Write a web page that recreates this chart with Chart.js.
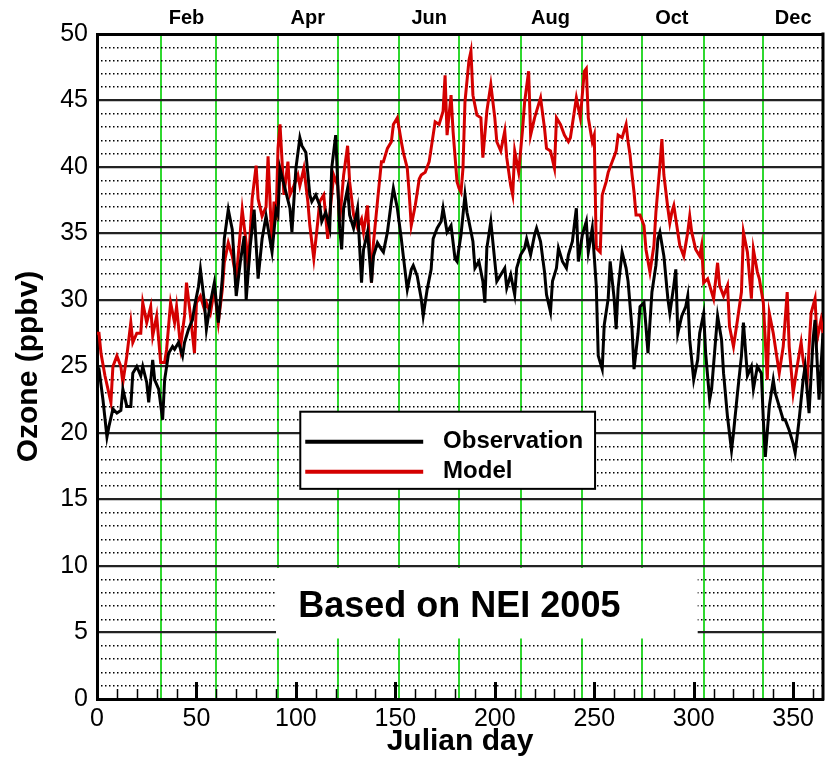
<!DOCTYPE html>
<html>
<head>
<meta charset="utf-8">
<script src="https://cdn.jsdelivr.net/npm/chart.js@4.4.1/dist/chart.umd.min.js"></script>
<style>
  html, body { margin: 0; padding: 0; background: #fff; }
  canvas { display: block; }
</style>
</head>
<body>
<canvas id="ozoneChart" width="827" height="764"></canvas>
<script>
// observed daily ozone (ppbv) by Julian day
const obsDay = [0, 1, 3, 5, 6, 8, 10, 12, 13, 15, 17, 18, 20, 22, 23, 25, 26, 28, 29, 31, 33, 34, 36, 38, 39, 41, 43, 44, 46, 48, 49,
  51, 52, 54, 55, 57, 59, 60, 61, 63, 64, 66, 68, 70, 72, 74, 75, 77, 79, 81, 83, 85, 88, 90, 91, 92, 95, 97, 98, 100,
  102, 103, 105, 107, 108, 110, 112, 113, 115, 117, 118, 120, 122, 123, 124, 126, 127, 129, 131, 133, 134, 136, 138, 139,
  141, 143, 144, 146, 148, 149, 151, 153, 154, 156, 158, 159, 161, 163, 164, 166, 168, 169, 171, 173, 174, 176, 178, 180,
  181, 183, 185, 186, 187, 189, 190, 192, 194, 195, 196, 198, 200, 201, 203, 205, 206, 208, 210, 211, 213, 215, 216, 218,
  220, 221, 223, 225, 226, 228, 229, 231, 232, 234, 236, 237, 239, 241, 242, 244, 246, 247, 249, 251, 252, 254, 255, 257,
  258, 260, 261, 262, 264, 266, 267, 269, 270, 272, 273, 275, 276, 277, 279, 281, 282, 283, 285, 287, 288, 290, 291, 292,
  294, 296, 297, 298, 300, 302, 303, 305, 306, 308, 309, 311, 312, 314, 315, 317, 319, 320, 322, 324, 325, 327, 329, 330,
  332, 334, 335, 336, 338, 340, 341, 343, 345, 346, 348, 350, 351, 353, 355, 356, 358, 360, 361, 363, 365];
const obsOzone = [25.0, 24.8, 22.5, 19.7, 20.5, 21.8, 21.5, 21.7, 23.3, 22.0, 22.0, 24.5, 25.0, 24.3, 25.0, 23.8, 22.3, 25.5, 24.0, 23.3, 21.0, 24.0, 26.0, 26.5, 26.3, 26.8, 25.8, 26.8, 27.8, 28.5, 29.5,
  31.0, 32.3, 29.8, 27.8, 29.8, 31.3, 29.8, 28.3, 31.6, 34.6, 36.8, 35.3, 30.3, 32.8, 34.8, 30.0, 34.0, 36.8, 31.6, 34.6, 36.3, 33.6, 36.8, 36.4, 39.9, 38.1, 36.9, 35.1, 39.9,
  42.2, 41.6, 41.1, 37.9, 37.4, 37.9, 37.1, 35.9, 36.6, 35.4, 39.9, 42.4, 35.4, 33.8, 36.9, 38.4, 36.4, 35.4, 36.9, 31.3, 33.8, 35.1, 31.3, 33.3,
  34.3, 33.8, 33.6, 35.1, 37.4, 38.4, 36.9, 34.6, 33.3, 30.8, 32.3, 32.6, 31.8, 30.1, 28.8, 30.8, 32.3, 34.6, 35.4, 35.9, 36.9, 35.1, 35.6, 33.1,
  32.9, 34.9, 37.9, 36.6, 35.9, 34.4, 32.4, 32.9, 31.4, 29.8, 33.9, 35.9, 32.9, 31.4, 31.9, 32.4, 30.9, 31.9, 30.4, 32.4, 33.4, 33.9, 34.6, 33.4,
  34.9, 35.4, 34.4, 32.1, 30.4, 29.1, 31.4, 32.4, 33.9, 32.9, 32.4, 33.4, 34.4, 36.9, 32.9, 34.9, 35.9, 33.6, 35.4, 31.1, 25.8, 24.8, 28.1, 30.1,
  32.9, 30.1, 27.8, 30.9, 33.6, 32.4, 31.4, 27.8, 24.8, 27.5, 29.5, 29.8, 28.0, 26.0, 30.6, 32.6, 34.6, 35.1, 33.3, 30.1, 29.0, 31.1, 32.3, 27.5,
  28.8, 29.5, 30.3, 27.0, 24.0, 25.5, 27.5, 29.0, 26.0, 22.5, 23.3, 27.0, 28.8, 27.0, 24.5, 21.2, 18.7, 20.0, 23.0, 25.8, 28.3, 24.3, 25.0, 23.3,
  25.0, 24.5, 21.0, 18.2, 22.0, 24.0, 23.0, 22.0, 21.0, 21.0, 20.2, 19.2, 18.5, 21.0, 24.0, 25.0, 21.5, 27.0, 28.5, 22.5, 27.5];

// modelled daily ozone (ppbv) by Julian day
const modDay = [0, 1, 2, 4, 7, 8, 10, 12, 13, 15, 17, 18, 20, 22, 23, 25, 27, 28, 30, 32, 34, 35, 37, 39, 40, 42, 44, 45, 47, 49, 50,
  52, 54, 55, 57, 59, 61, 63, 64, 66, 68, 70, 73, 75, 76, 78, 80, 81, 83, 85, 86, 88, 89, 90, 91, 92, 94, 96, 97, 99,
  101, 102, 104, 106, 107, 109, 111, 112, 114, 116, 117, 119, 121, 122, 124, 126, 127, 129, 131, 133, 134, 136, 138, 139,
  141, 143, 144, 146, 148, 149, 151, 153, 154, 156, 157, 158, 160, 162, 163, 165, 167, 168, 170, 172, 174, 175, 176, 178,
  179, 181, 182, 183, 184, 185, 187, 188, 189, 191, 193, 194, 196, 198, 200, 201, 203, 205, 206, 208, 209, 210, 212, 214,
  215, 217, 218, 220, 221, 223, 225, 226, 228, 230, 231, 233, 235, 237, 238, 240, 241, 243, 245, 246, 247, 249, 250, 251,
  253, 254, 256, 257, 259, 261, 262, 264, 266, 267, 268, 269, 270, 271, 273, 275, 276, 278, 280, 281, 283, 284, 285, 287,
  288, 289, 290, 292, 293, 295, 297, 298, 299, 301, 303, 304, 305, 307, 308, 310, 312, 313, 315, 317, 318, 320, 322, 324,
  325, 327, 329, 330, 332, 333, 335, 337, 338, 340, 342, 343, 345, 347, 348, 350, 352, 354, 355, 357, 359, 361, 362, 364, 365];
const modOzone = [27.5, 27.5, 26.0, 24.3, 22.3, 25.0, 25.8, 25.0, 23.8, 25.8, 28.3, 26.8, 27.5, 27.5, 29.8, 28.3, 29.5, 27.3, 28.8, 25.3, 25.3, 26.3, 29.8, 28.3, 29.5, 26.5, 28.8, 31.3, 28.8, 26.0, 29.8,
  30.3, 29.3, 29.8, 29.0, 30.8, 28.3, 30.8, 32.8, 34.3, 33.3, 31.6, 36.8, 34.3, 32.3, 37.6, 40.1, 37.6, 36.3, 37.0, 40.8, 34.0, 37.4, 36.0, 41.4, 43.2, 37.9, 40.4, 37.9, 38.6,
  39.4, 38.6, 39.9, 37.4, 35.6, 33.1, 35.9, 37.4, 37.9, 34.6, 36.4, 39.4, 38.6, 35.9, 39.4, 41.6, 38.9, 36.4, 35.4, 36.1, 35.1, 37.1, 31.3, 34.3,
  37.4, 40.4, 40.4, 41.4, 41.9, 43.2, 43.7, 41.9, 41.1, 39.9, 37.9, 35.6, 37.1, 39.1, 39.4, 39.6, 40.4, 41.4, 43.4, 43.2, 44.2, 46.9, 42.4, 45.4,
  42.7, 38.9, 38.4, 38.1, 39.9, 44.9, 48.0, 48.7, 45.4, 43.9, 43.7, 40.7, 44.2, 46.2, 43.7, 41.9, 41.2, 42.7, 40.7, 38.6, 37.9, 41.2, 39.6, 42.9,
  44.9, 47.2, 42.4, 43.7, 44.2, 45.2, 42.9, 41.4, 41.2, 39.9, 43.7, 43.2, 42.4, 41.9, 42.2, 44.2, 45.2, 43.7, 47.2, 47.4, 43.7, 41.9, 42.4, 33.9,
  33.6, 37.9, 38.9, 39.6, 40.4, 41.2, 42.4, 42.2, 43.2, 41.9, 40.9, 39.4, 38.1, 36.4, 36.4, 35.6, 33.8, 32.1, 34.1, 36.6, 40.1, 42.1, 39.4, 36.9,
  35.8, 36.6, 37.1, 35.1, 34.1, 33.3, 35.1, 36.3, 35.1, 33.8, 33.3, 34.1, 31.3, 31.6, 31.1, 30.1, 32.8, 31.1, 30.3, 31.1, 28.0, 26.5, 28.5, 30.6,
  35.1, 33.6, 30.1, 33.8, 32.1, 31.6, 29.8, 24.0, 29.0, 27.5, 25.5, 24.5, 26.5, 30.6, 26.5, 23.0, 25.0, 26.8, 25.5, 23.8, 29.0, 30.1, 27.0, 28.5, 27.5];

// axis furniture
const monthStart = [32, 60, 91, 121, 152, 182, 213, 244, 274, 305, 335];
const monthMid = [45, 106, 167, 228, 289, 350];
const monthName = ['Feb', 'Apr', 'Jun', 'Aug', 'Oct', 'Dec'];

const FONT = "'Liberation Sans', Arial, Helvetica, sans-serif";
Chart.defaults.font.family = FONT;
Chart.defaults.color = '#000';

const toPoints = function(days, vals) {
  return days.map(function(d, i) { return { x: d, y: vals[i] }; });
};

// inside tick marks, right frame, legend box and label box
const decorations = {
  id: 'decorations',
  beforeDatasetsDraw: function(chart) {
    const c = chart.ctx;
    const xs = chart.scales.x;
    const ys = chart.scales.y;
    const area = chart.chartArea;
    c.save();

    // white box for the annotation
    const bx0 = xs.getPixelForValue(90), bx1 = xs.getPixelForValue(302);
    const by0 = ys.getPixelForValue(9.85), by1 = ys.getPixelForValue(4.55);
    c.fillStyle = '#fff';
    c.fillRect(bx0, by0, bx1 - bx0, by1 - by0);

    // bottom ticks pointing inward
    c.strokeStyle = '#000';
    for (let v = 10; v < 365; v += 10) {
      const px = Math.round(xs.getPixelForValue(v)) + 0.5;
      const major = v % 50 === 0;
      c.lineWidth = major ? 3 : 1.5;
      c.beginPath();
      c.moveTo(px, area.bottom);
      c.lineTo(px, area.bottom - (major ? 17 : 10));
      c.stroke();
    }

    // right frame
    c.lineWidth = 3;
    c.beginPath();
    c.moveTo(area.right, area.top - 1.5);
    c.lineTo(area.right, area.bottom + 1.5);
    c.stroke();
    c.restore();
  },
  afterDatasetsDraw: function(chart) {
    const c = chart.ctx;
    const xs = chart.scales.x;
    const ys = chart.scales.y;
    c.save();

    c.fillStyle = '#000';
    c.textBaseline = 'middle';
    c.textAlign = 'left';
    c.font = 'bold 36px ' + FONT;
    c.fillText('Based on NEI 2005', xs.getPixelForValue(101.2), ys.getPixelForValue(6.9));

    // legend
    const lx0 = xs.getPixelForValue(102.2), lx1 = xs.getPixelForValue(250.4);
    const ly0 = ys.getPixelForValue(21.6), ly1 = ys.getPixelForValue(15.8);
    c.fillStyle = '#fff';
    c.fillRect(lx0, ly0, lx1 - lx0, ly1 - ly0);
    c.strokeStyle = '#000';
    c.lineWidth = 2;
    c.strokeRect(lx0, ly0, lx1 - lx0, ly1 - ly0);

    const rows = [19.34, 17.08];
    chart.data.datasets.forEach(function(ds, i) {
      const py = ys.getPixelForValue(rows[i]);
      c.strokeStyle = ds.borderColor;
      c.lineWidth = 4;
      c.beginPath();
      c.moveTo(xs.getPixelForValue(104.7), py);
      c.lineTo(xs.getPixelForValue(164), py);
      c.stroke();
      c.fillStyle = '#000';
      c.font = 'bold 24px ' + FONT;
      c.fillText(ds.label, xs.getPixelForValue(174), py);
    });
    c.restore();
  }
};

new Chart(document.getElementById('ozoneChart'), {
  type: 'line',
  data: {
    datasets: [
      {
        label: 'Observation',
        data: toPoints(obsDay, obsOzone),
        borderColor: '#000000',
        borderWidth: 3,
        pointRadius: 0,
        tension: 0
      },
      {
        label: 'Model',
        data: toPoints(modDay, modOzone),
        borderColor: '#d40000',
        borderWidth: 3,
        pointRadius: 0,
        tension: 0
      }
    ]
  },
  options: {
    responsive: false,
    animation: false,
    layout: { padding: { top: 0, right: 4, bottom: 0, left: 0 } },
    plugins: {
      legend: { display: false },
      tooltip: { enabled: false }
    },
    scales: {
      x: {
        type: 'linear',
        position: 'bottom',
        min: 0,
        max: 365,
        ticks: { stepSize: 50, includeBounds: false, autoSkip: false, maxRotation: 0, padding: 5, font: { size: 25 } },
        grid: { display: false, drawTicks: false },
        border: { color: '#000', width: 3 },
        title: { display: true, text: 'Julian day', font: { size: 30, weight: 'bold' }, padding: { top: 0, bottom: 4 } },
        afterFit: function(s) { s.height = 65; }
      },
      xMonth: {
        type: 'linear',
        position: 'bottom',
        min: 0,
        max: 365,
        afterBuildTicks: function(s) { s.ticks = monthStart.map(function(v) { return { value: v }; }); },
        ticks: { display: false },
        grid: { color: '#30d830', lineWidth: 2, drawTicks: false },
        border: { display: false },
        afterFit: function(s) { s.height = 0; }
      },
      xTop: {
        type: 'linear',
        position: 'top',
        min: 0,
        max: 365,
        afterBuildTicks: function(s) { s.ticks = monthMid.map(function(v) { return { value: v }; }); },
        ticks: {
          autoSkip: false,
          maxRotation: 0,
          padding: 4,
          font: { size: 20, weight: 'bold' },
          callback: function(v, i) { return monthName[i]; }
        },
        grid: { display: false, drawTicks: false },
        border: { color: '#000', width: 3 },
        afterFit: function(s) { s.height = 34; }
      },
      yMinor: {
        position: 'left',
        min: 0,
        max: 50,
        ticks: { stepSize: 1, display: false },
        grid: {
          drawTicks: false,
          lineWidth: 1.4,
          color: function(ctx) { return ctx.tick.value % 5 === 0 ? 'rgba(0,0,0,0)' : '#000'; }
        },
        border: { display: false, dash: [1.5, 2.5] },
        afterFit: function(s) { s.width = 0; }
      },
      y: {
        position: 'left',
        min: 0,
        max: 50,
        ticks: { stepSize: 5, padding: 9, font: { size: 25 } },
        grid: { color: '#222', lineWidth: 2.2, drawTicks: false },
        border: { color: '#000', width: 3 },
        title: { display: true, text: 'Ozone (ppbv)', font: { size: 30, weight: 'bold' }, padding: { top: 11, bottom: 0 } },
        afterFit: function(s) { s.width = 97; }
      }
    }
  },
  plugins: [decorations]
});
</script>
</body>
</html>
